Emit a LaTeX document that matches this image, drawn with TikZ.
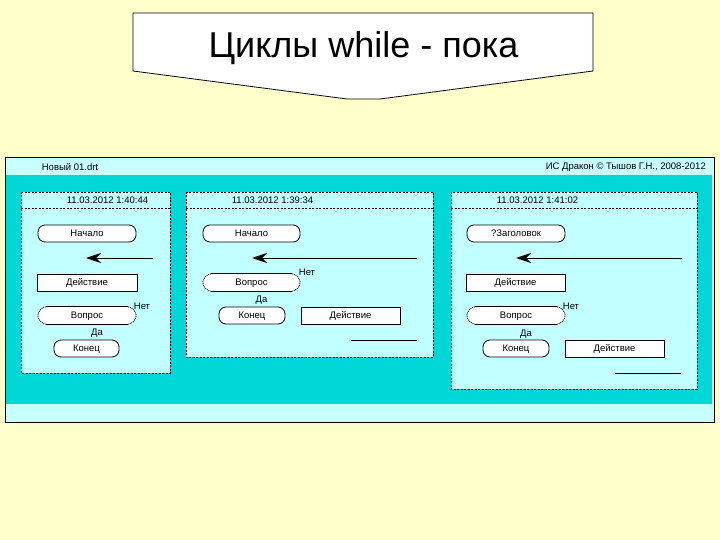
\documentclass[tikz,border=0pt]{standalone}
\usepackage{fontspec}
\setmainfont{Liberation Sans}
\usetikzlibrary{arrows.meta}
\definecolor{bgyellow}{HTML}{FFFFCC}
\definecolor{panelcyan}{HTML}{C2FFFF}
\definecolor{darkcyan}{HTML}{00D6D6}
\definecolor{barcyan}{HTML}{C8FFFF}
\tikzset{
  ui/.style={font=\fontsize{9.5}{11}\selectfont},
  boxtext/.style={ui, text height=7pt, text depth=0.5pt},
  term/.style={draw, fill=white, rounded corners=7pt, minimum height=17pt, inner sep=0pt, line width=0.8pt, boxtext},
  actbox/.style={draw, fill=white, minimum height=17pt, inner sep=0pt, line width=0.8pt, boxtext},
  qnode/.style={fill=white, minimum height=17pt, inner sep=0pt, boxtext},
  panel/.style={draw, fill=panelcyan, dash pattern=on 2pt off 1.5pt, line width=0.8pt},
  hdrline/.style={dash pattern=on 2pt off 1.5pt, line width=0.8pt},
  flowline/.style={line width=0.8pt},
  flowarrow/.style={line width=0.8pt, -{Stealth[length=15pt,width=10pt,inset=5pt]}},
  lbl/.style={ui, inner sep=0pt},
  titleshape/.style={draw, fill=white, line width=0.8pt},
}
\newcommand{\drakonq}[1]{%
  \path[fill=white] (#1.north east) to[out=-10,in=100] ([xshift=8pt]#1.east) to[out=-100,in=10] (#1.south east) -- cycle;
  \path[fill=white] (#1.north west) to[out=190,in=80] ([xshift=-8pt]#1.west) to[out=-80,in=170] (#1.south west) -- cycle;
  \draw[densely dotted, line width=0.9pt] (#1.north east) to[out=-10,in=100] ([xshift=8pt]#1.east) to[out=-100,in=10] (#1.south east);
  \draw[densely dotted, line width=0.9pt] (#1.north west) to[out=190,in=80] ([xshift=-8pt]#1.west) to[out=-80,in=170] (#1.south west);
  \draw[line width=0.8pt] (#1.north west) -- (#1.north east);
  \draw[line width=0.8pt] (#1.south west) -- (#1.south east);
}
\begin{document}
\begin{tikzpicture}[x=1pt,y=-1pt]
\useasboundingbox (0,0) rectangle (720,540);
\fill[bgyellow] (0,0) rectangle (720,540);

% title
\draw[titleshape] (133,13) -- (593,13) -- (593,71) -- (380,99) -- (347,99) -- (133,71) -- cycle;
\node[anchor=base, inner sep=0pt, font=\fontsize{36}{40}\selectfont] (title) at (363.5,58) {Циклы while - пока};

% window
\fill[barcyan] (5,158) rectangle (714,422);
\fill[darkcyan] (6,175) rectangle (712,404);
\draw[line width=1pt] (5,158) rectangle (714,422);
\node[lbl] (fname) at (70,167) {Новый 01.drt};
\node[lbl, anchor=east] (copy) at (706,167) {ИС Дракон © Тышов Г.Н., 2008-2012};

% panels
\draw[panel] (21,192) rectangle (170,373);
\draw[hdrline] (21,208) -- (170,208);
\draw[panel] (186,192) rectangle (433,357);
\draw[hdrline] (186,208) -- (433,208);
\draw[panel] (451,192) rectangle (697,389);
\draw[hdrline] (451,208) -- (697,208);

\node[lbl] (d1) at (107.5,200) {11.03.2012 1:40:44};
\node[lbl] (d2) at (272.5,200) {11.03.2012 1:39:34};
\node[lbl] (d3) at (537.5,200) {11.03.2012 1:41:02};

% panel 1
\node[term, minimum width=98pt] (s1) at (87,233.5) {Начало};
\coordinate (a1s) at (153,258);
\coordinate (a1e) at (86,258);
\draw[flowarrow] (a1s) -- (a1e);
\node[actbox, minimum width=100pt] (act1) at (87,282.5) {Действие};
\node[qnode, minimum width=82pt] (q1) at (87,315.5) {Вопрос};
\drakonq{q1}
\node[lbl] (no1) at (142,306) {Нет};
\node[lbl] (yes1) at (97,333) {Да};
\node[term, minimum width=65pt] (e1) at (86.5,348.5) {Конец};

% panel 2
\node[term, minimum width=97pt] (s2) at (251.5,233.5) {Начало};
\coordinate (a2s) at (417,258);
\coordinate (a2e) at (252,258);
\draw[flowarrow] (a2s) -- (a2e);
\node[qnode, minimum width=81pt] (q2) at (251.5,282.5) {Вопрос};
\drakonq{q2}
\node[lbl] (no2) at (307,272) {Нет};
\node[lbl] (yes2) at (261.5,300) {Да};
\node[term, minimum width=66pt] (e2) at (252,315.5) {Конец};
\node[actbox, minimum width=99pt] (act2) at (350.5,315.5) {Действие};
\coordinate (l2s) at (351,340);
\coordinate (l2e) at (417,340);
\draw[flowline] (l2s) -- (l2e);

% panel 3
\node[term, minimum width=98pt] (s3) at (516,233.5) {?Заголовок};
\coordinate (a3s) at (682,258);
\coordinate (a3e) at (516,258);
\draw[flowarrow] (a3s) -- (a3e);
\node[actbox, minimum width=99pt] (act3) at (515.5,282.5) {Действие};
\node[qnode, minimum width=82pt] (q3) at (516,315.5) {Вопрос};
\drakonq{q3}
\node[lbl] (no3) at (571,306) {Нет};
\node[lbl] (yes3) at (526,334) {Да};
\node[term, minimum width=66pt] (e3) at (516,348.5) {Конец};
\node[actbox, minimum width=99pt] (act4) at (614.5,348.5) {Действие};
\coordinate (l3s) at (615,373);
\coordinate (l3e) at (681,373);
\draw[flowline] (l3s) -- (l3e);
\end{tikzpicture}
\end{document}
